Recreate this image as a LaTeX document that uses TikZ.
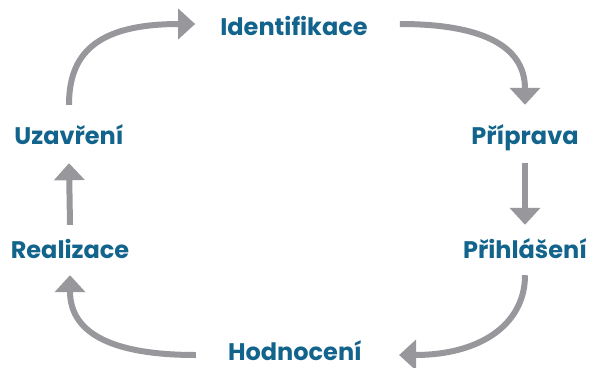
\documentclass[tikz,border=0pt]{standalone}
\usepackage{fontspec}
\setmainfont{Poppins}
\usetikzlibrary{arrows.meta}
\definecolor{labelblue}{RGB}{18,100,140}
\definecolor{arrowgray}{RGB}{152,152,156}
\tikzset{
  lbl/.style={font=\bfseries\fontsize{24}{28}\selectfont, text=labelblue, inner sep=0pt, text height=16pt, text depth=0pt},
  arr/.style={draw=arrowgray, line width=6pt, -{Triangle[width=30pt,length=17pt]}}
}
\begin{document}
\begin{tikzpicture}[x=1pt,y=-1pt]
\useasboundingbox (0,0) rectangle (591,367);
\node[lbl] (id) at (294,27) {Identifikace};
\node[lbl] (pr) at (525,136) {Příprava};
\node[lbl] (ph) at (525,250) {Přihlášení};
\node[lbl] (ho) at (295,352) {Hodnocení};
\node[lbl] (re) at (70,250) {Realizace};
\node[lbl] (uz) at (69,136) {Uzavření};
\draw[arr] ([yshift=23pt]uz.north) .. controls +(0,-50) and +(-100,0) .. ([xshift=-25pt,yshift=3pt]id.west);
\draw[arr] ([xshift=32pt,yshift=3pt]id.east) .. controls +(80,0) and +(0,-60) .. ([yshift=23pt]pr.north);
\draw[arr] ([yshift=-19pt]pr.south) -- ([yshift=17pt]ph.north);
\draw[arr] ([yshift=-17pt]ph.south) .. controls +(0,50) and +(80,0) .. ([xshift=37pt,yshift=-3pt]ho.east);
\draw[arr] ([xshift=-32pt,yshift=-3pt]ho.west) .. controls +(-80,0) and +(0,60) .. ([yshift=-17pt]re.south);
\draw[arr] ([yshift=17pt]re.north) -- ([yshift=-19pt]uz.south);
\end{tikzpicture}
\end{document}
